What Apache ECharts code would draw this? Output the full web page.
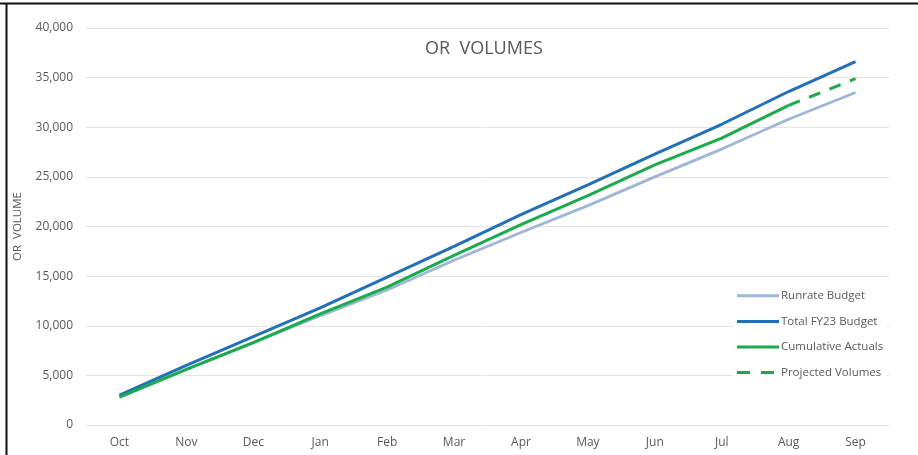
<!DOCTYPE html>
<html>
<head>
<meta charset="utf-8">
<title>OR Volumes</title>
<script src="https://cdn.jsdelivr.net/npm/echarts@6/dist/echarts.min.js"></script>
<style>
  html, body { margin: 0; padding: 0; background: #fff; }
  #chart { width: 918px; height: 455px; }
</style>
</head>
<body>
<div id="chart"></div>
<script>
// Fiscal-year months
const months = ['Oct', 'Nov', 'Dec', 'Jan', 'Feb', 'Mar', 'Apr', 'May', 'Jun', 'Jul', 'Aug', 'Sep'];

// Cumulative OR volume series
const runrateBudget = [2800, 5600, 8300, 11000, 13600, 16600, 19400, 22100, 25000, 27800, 30800, 33500];
const totalBudget = [3000, 6000, 8900, 11800, 14900, 18000, 21200, 24200, 27300, 30300, 33600, 36600];
const cumulativeActuals = [2800, 5600, 8300, 11200, 13900, 17100, 20200, 23100, 26200, 28900, 32200, null];
const projectedVolumes = [null, null, null, null, null, null, null, null, null, null, 32200, 34900];

// Y axis ticks
const yMin = 0, yMax = 40000, yStep = 5000;

const textColor = '#595959';
const font = '"Open Sans", "Liberation Sans", sans-serif';

// Legend keys: solid bar, and two dashes for the projection
const solidIcon = 'path://M0,0 H42 V3 H0 Z';
const dashedIcon = 'path://M0,0 H13 V3 H0 Z M24,0 H37 V3 H24 Z M41.9,0 H42 V3 H41.9 Z';

const chart = echarts.init(document.getElementById('chart'), null, { renderer: 'canvas' });

chart.setOption({
  backgroundColor: '#ffffff',
  animation: false,
  title: {
    text: 'OR  VOLUMES',
    left: 420,
    top: 35,
    textStyle: { color: textColor, fontSize: 18, fontWeight: 'normal', fontFamily: font }
  },
  grid: { left: 86, right: 29, top: 28, bottom: 30 },
  legend: {
    orient: 'vertical',
    left: 733,
    top: 283,
    itemWidth: 42,
    itemHeight: 3,
    itemGap: 10,
    padding: [5, 4, 14, 4],
    backgroundColor: '#ffffff',
    textStyle: { color: textColor, fontSize: 11.5, fontFamily: font, lineHeight: 15.6, padding: [0, 0, 0, -3] },
    data: [
      { name: 'Runrate Budget', icon: solidIcon },
      { name: 'Total FY23 Budget', icon: solidIcon },
      { name: 'Cumulative Actuals', icon: solidIcon },
      { name: 'Projected Volumes', icon: dashedIcon }
    ]
  },
  xAxis: {
    type: 'category',
    data: months,
    boundaryGap: true,
    axisLine: { show: false },
    axisTick: { show: false },
    axisLabel: { color: textColor, fontSize: 12, fontFamily: font, margin: 12 }
  },
  yAxis: {
    type: 'value',
    min: yMin,
    max: yMax,
    interval: yStep,
    name: 'OR  VOLUME',
    nameLocation: 'middle',
    nameGap: 62,
    nameTextStyle: { color: textColor, fontSize: 11.5, fontFamily: font },
    axisLine: { show: false },
    axisTick: { show: false },
    splitLine: { lineStyle: { color: '#e4e4e4', width: 1 } },
    axisLabel: {
      color: textColor,
      fontSize: 12,
      fontFamily: font,
      margin: 13,
      formatter: v => v.toLocaleString('en-US')
    }
  },
  series: [
    {
      name: 'Runrate Budget',
      type: 'line',
      data: runrateBudget,
      symbol: 'none',
      z: 2,
      lineStyle: { color: '#9fb6d9', width: 2.8 },
      itemStyle: { color: '#9fb6d9' }
    },
    {
      name: 'Total FY23 Budget',
      type: 'line',
      data: totalBudget,
      symbol: 'none',
      z: 3,
      lineStyle: { color: '#2170b8', width: 3 },
      itemStyle: { color: '#2170b8' }
    },
    {
      name: 'Cumulative Actuals',
      type: 'line',
      data: cumulativeActuals,
      symbol: 'none',
      z: 4,
      lineStyle: { color: '#1aab4b', width: 3 },
      itemStyle: { color: '#1aab4b' }
    },
    {
      name: 'Projected Volumes',
      type: 'line',
      data: projectedVolumes,
      symbol: 'none',
      z: 4,
      lineStyle: { color: '#1aab4b', width: 3, type: [12, 10] },
      itemStyle: { color: '#1aab4b' }
    }
  ],
  graphic: [
    { type: 'line', shape: { x1: 0, y1: 3.5, x2: 918, y2: 3.5 }, style: { stroke: '#111', lineWidth: 2 }, z: 100 },
    { type: 'line', shape: { x1: 6.5, y1: 3, x2: 6.5, y2: 455 }, style: { stroke: '#111', lineWidth: 2 }, z: 100 }
  ]
});
</script>
</body>
</html>
